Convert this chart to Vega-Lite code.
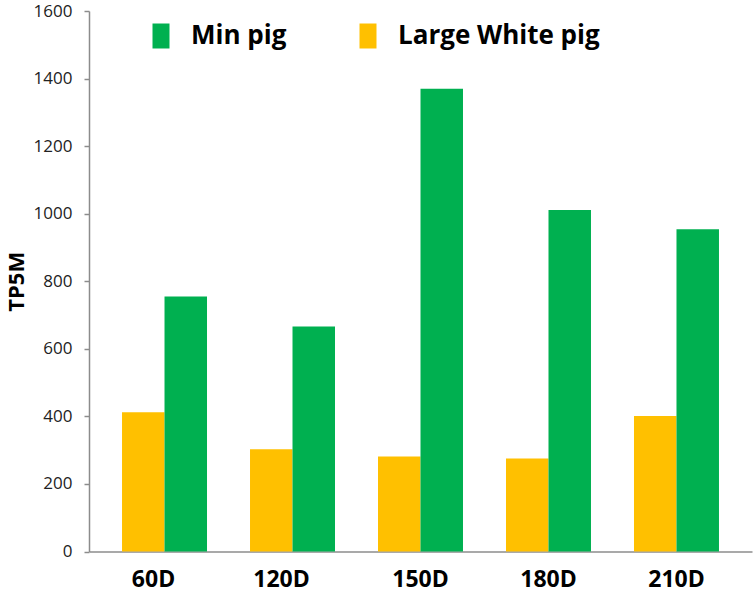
{
  "$schema": "https://vega.github.io/schema/vega-lite/v6.json",
  "autosize": {"type": "none"},
  "padding": {"left": 89, "top": 11, "right": 3, "bottom": 41},
  "width": 663,
  "height": 540.5,
  "background": "white",
  "config": {
    "view": {"stroke": null},
    "font": "Open Sans"
  },
  "data": {
    "values": [
      {"day": "60D", "breed": "Large White pig", "TP5M": 412},
      {"day": "60D", "breed": "Min pig", "TP5M": 755},
      {"day": "120D", "breed": "Large White pig", "TP5M": 303},
      {"day": "120D", "breed": "Min pig", "TP5M": 666},
      {"day": "150D", "breed": "Large White pig", "TP5M": 281},
      {"day": "150D", "breed": "Min pig", "TP5M": 1370},
      {"day": "180D", "breed": "Large White pig", "TP5M": 275},
      {"day": "180D", "breed": "Min pig", "TP5M": 1011},
      {"day": "210D", "breed": "Large White pig", "TP5M": 401},
      {"day": "210D", "breed": "Min pig", "TP5M": 954}
    ]
  },
  "mark": {"type": "bar"},
  "encoding": {
    "x": {
      "field": "day",
      "type": "nominal",
      "sort": ["60D", "120D", "150D", "180D", "210D"],
      "scale": {"paddingInner": 0.336, "paddingOuter": 0.258},
      "axis": {
        "title": null,
        "labelAngle": 0,
        "labelFont": "Open Sans",
        "labelFontWeight": "bold",
        "labelFontSize": 23,
        "labelColor": "#000000",
        "labelPadding": 17,
        "labelOffset": {"condition": {"test": "datum.value == '60D' || datum.value == '120D'", "value": -11}, "value": 0},
        "ticks": false,
        "domainColor": "#8c8c8c",
        "domainWidth": 1.5
      }
    },
    "xOffset": {
      "field": "breed",
      "type": "nominal",
      "sort": ["Large White pig", "Min pig"],
      "scale": {"paddingInner": 0, "paddingOuter": 0}
    },
    "y": {
      "field": "TP5M",
      "type": "quantitative",
      "scale": {"domain": [0, 1600], "nice": false},
      "axis": {
        "title": "TP5M",
        "titleFont": "Open Sans",
        "titleFontWeight": "bold",
        "titleFontSize": 22,
        "titleColor": "#000000",
        "titlePadding": 5,
        "values": [0, 200, 400, 600, 800, 1000, 1200, 1400, 1600],
        "format": "d",
        "grid": false,
        "labelFont": "Open Sans",
        "labelFontSize": 17,
        "labelColor": "#222222",
        "labelPadding": 12,
        "tickColor": "#8c8c8c",
        "tickSize": 5,
        "tickWidth": 1.5,
        "domainColor": "#8c8c8c",
        "domainWidth": 1.5
      }
    },
    "color": {
      "field": "breed",
      "type": "nominal",
      "scale": {"domain": ["Min pig", "Large White pig"], "range": ["#00B050", "#FFC000"]},
      "legend": {
        "title": null,
        "orient": "none",
        "legendX": 59,
        "legendY": 12,
        "direction": "horizontal",
        "symbolType": "M-0.68,-1H0.68V1H-0.68Z",
        "symbolSize": 625,
        "symbolStrokeWidth": 0,
        "labelFont": "Open Sans",
        "labelFontWeight": "bold",
        "labelFontSize": 26,
        "labelColor": "#000000",
        "labelOffset": 17,
        "columnPadding": 68,
        "labelLimit": 300
      }
    }
  }
}
